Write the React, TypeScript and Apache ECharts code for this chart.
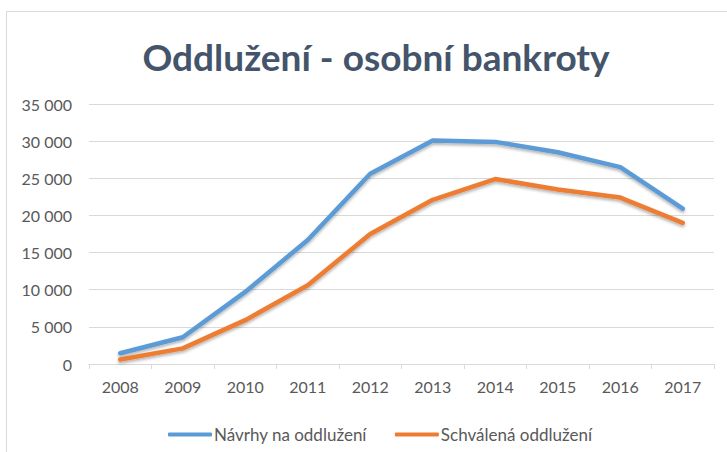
import React, { useEffect, useRef } from "react";
import * as echarts from "echarts";

const years = ["2008", "2009", "2010", "2011", "2012", "2013", "2014", "2015", "2016", "2017"];
const navrhy = [1450, 3600, 9700, 16700, 25600, 30100, 29900, 28500, 26500, 20900];
const schvalena = [600, 2100, 5900, 10600, 17500, 22100, 24900, 23500, 22400, 19000];
const titleText = "Oddlužení - osobní bankroty";
const seriesNames = ["Návrhy na oddlužení", "Schválená oddlužení"];

const fmt = (v: number) => String(v).replace(/\B(?=(\d{3})+(?!\d))/g, " ");

export default function App() {
  const ref = useRef<HTMLDivElement>(null);
  useEffect(() => {
    if (!ref.current) return;
    const chart = echarts.init(ref.current, undefined, { renderer: "svg" });
    const font = "Lato, 'Open Sans', sans-serif";
    const shadow = { shadowColor: "rgba(0,0,0,0.3)", shadowBlur: 3, shadowOffsetY: 2 };
    chart.setOption({
      animation: false,
      backgroundColor: "#ffffff",
      graphic: [
        {
          type: "rect",
          shape: { x: 6.5, y: 11.5, width: 800, height: 600 },
          style: { fill: "none", stroke: "#D9D9D9", lineWidth: 1 },
          silent: true,
        },
      ],
      title: {
        text: titleText,
        left: 371,
        textAlign: "center",
        top: 33,
        textStyle: { fontFamily: font, fontSize: 37, fontWeight: "bold", color: "#44546A" },
      },
      legend: {
        top: 421,
        left: 163,
        itemGap: 28,
        itemWidth: 44,
        itemHeight: 4,
        icon: "roundRect",
        textStyle: { fontFamily: font, fontSize: 17, color: "#595959", padding: [0, 0, 0, -3] },
        data: seriesNames,
      },
      grid: { left: 89, right: 13, top: 104, bottom: 88 },
      xAxis: {
        type: "category",
        data: years,
        boundaryGap: true,
        axisLine: { lineStyle: { color: "#D9D9D9", width: 1 } },
        axisTick: { show: true, length: 5, lineStyle: { color: "#D9D9D9" } },
        axisLabel: { fontFamily: font, fontSize: 16, color: "#595959", margin: 14 },
      },
      yAxis: {
        type: "value",
        min: 0,
        max: 35000,
        interval: 5000,
        axisLine: { show: false },
        axisTick: { show: false },
        splitLine: { lineStyle: { color: "#D9D9D9", width: 1 } },
        axisLabel: { fontFamily: font, fontSize: 16, color: "#595959", margin: 17, formatter: (v: number) => fmt(v) },
      },
      series: [
        {
          name: seriesNames[0],
          type: "line",
          data: navrhy,
          symbol: "none",
          color: "#5B9BD5",
          lineStyle: { width: 4.5, color: "#5B9BD5", cap: "round", join: "round", ...shadow },
        },
        {
          name: seriesNames[1],
          type: "line",
          data: schvalena,
          symbol: "none",
          color: "#ED7D31",
          lineStyle: { width: 4.5, color: "#ED7D31", cap: "round", join: "round", ...shadow },
        },
      ],
    });
    return () => chart.dispose();
  }, []);
  return <div ref={ref} style={{ position: "fixed", left: 0, top: 0, width: 727, height: 452 }} />;
}
